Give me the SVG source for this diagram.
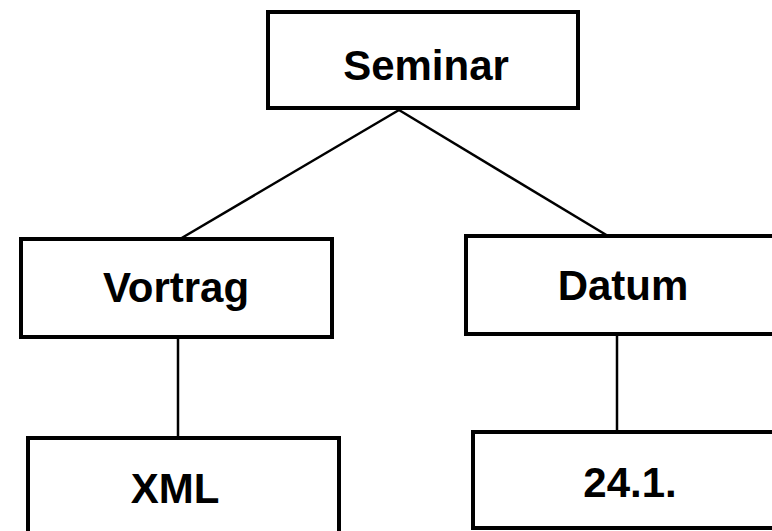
<svg xmlns="http://www.w3.org/2000/svg" width="772" height="531" viewBox="0 0 772 531">
<style>
.box{fill:#fff;stroke:#000;stroke-width:4}
.lbl{font-family:"Liberation Sans",Arial,sans-serif;font-weight:bold;font-size:42px;text-anchor:middle;fill:#000}
.edge{stroke:#000;stroke-width:2.5;fill:none}
</style>
<rect width="772" height="531" fill="#fff"/>
<g id="connectors">
<line class="edge" x1="399" y1="110" x2="180" y2="239"/>
<line class="edge" x1="399" y1="110" x2="608" y2="236"/>
<line class="edge" x1="178" y1="337" x2="178" y2="438"/>
<line class="edge" x1="617" y1="334" x2="617" y2="432"/>
</g>
<g id="seminar"><rect class="box" x="268" y="12" width="310" height="96"/><text class="lbl" x="426" y="80">Seminar</text></g>
<g id="vortrag"><rect class="box" x="21" y="239" width="311" height="98"/><text class="lbl" x="176" y="302">Vortrag</text></g>
<g id="datum"><rect class="box" x="466" y="236" width="320" height="98"/><text class="lbl" x="623" y="300">Datum</text></g>
<g id="xml"><rect class="box" x="28" y="438" width="311" height="110"/><text class="lbl" x="175" y="503">XML</text></g>
<g id="date"><rect class="box" x="473" y="432" width="320" height="96"/><text class="lbl" x="630" y="497">24.1.</text></g>
</svg>
